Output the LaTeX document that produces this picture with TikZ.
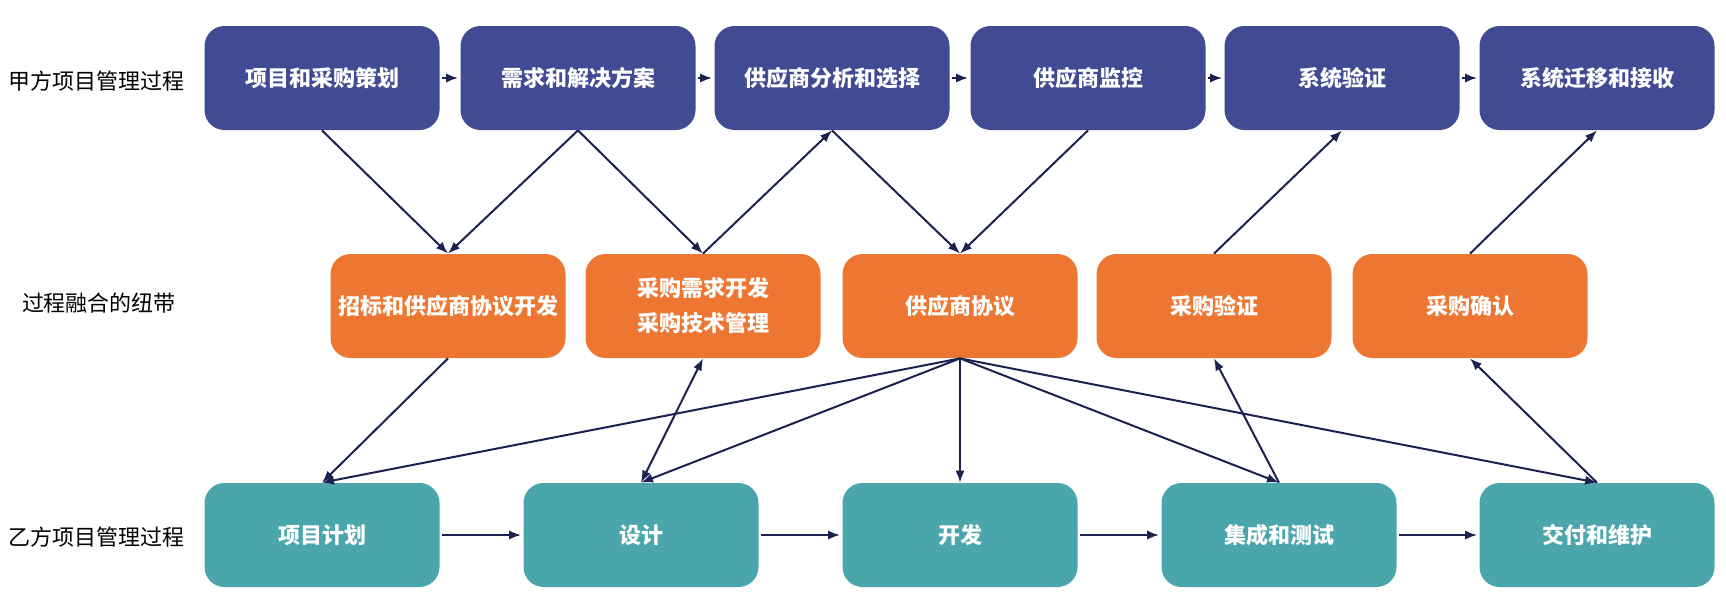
\documentclass[tikz,border=0pt]{standalone}
\usepackage{fontspec}
\setmainfont{Noto Sans CJK SC}
\usetikzlibrary{arrows.meta}
\definecolor{partyA}{HTML}{404B93}
\definecolor{bridge}{HTML}{ED7732}
\definecolor{partyB}{HTML}{4AA6AA}
\definecolor{wire}{HTML}{1B2150}

\begin{document}
\begin{tikzpicture}[x=0.5pt,y=-0.5pt,>={Latex[length=6pt,width=4.6pt]},
  box/.style={rounded corners=10pt,minimum width=117.5pt,minimum height=52pt,inner sep=0pt,
    text=white,align=center,font=\fontsize{11}{17.5}\selectfont\bfseries},
  rowlabel/.style={font=\fontsize{11}{13}\selectfont},
  flow/.style={draw=wire,line width=1pt}]
\useasboundingbox (0,0) rectangle (1726,612);
\node[rowlabel] (la) at (97,81) {甲方项目管理过程};
\node[rowlabel] (lm) at (99,303) {过程融合的纽带};
\node[rowlabel] (lb) at (97,537) {乙方项目管理过程};
\node[box,fill=partyA] (t1) at (322,78) {项目和采购策划};
\node[box,fill=partyA] (t2) at (578,78) {需求和解决方案};
\node[box,fill=partyA] (t3) at (832,78) {供应商分析和选择};
\node[box,fill=partyA] (t4) at (1088,78) {供应商监控};
\node[box,fill=partyA] (t5) at (1342,78) {系统验证};
\node[box,fill=partyA] (t6) at (1597,78) {系统迁移和接收};
\node[box,fill=bridge] (m1) at (448,306) {招标和供应商协议开发};
\node[box,fill=bridge] (m2) at (703,306) {采购需求开发\\采购技术管理};
\node[box,fill=bridge] (m3) at (960,306) {供应商协议};
\node[box,fill=bridge] (m4) at (1214,306) {采购验证};
\node[box,fill=bridge] (m5) at (1470,306) {采购确认};
\node[box,fill=partyB] (b1) at (322,535) {项目计划};
\node[box,fill=partyB] (b2) at (641,535) {设计};
\node[box,fill=partyB] (b3) at (960,535) {开发};
\node[box,fill=partyB] (b4) at (1279,535) {集成和测试};
\node[box,fill=partyB] (b5) at (1597,535) {交付和维护};
\foreach \a/\b in {t1/t2,t2/t3,t3/t4,t4/t5,t5/t6,b1/b2,b2/b3,b3/b4,b4/b5}
  \draw[flow,->,shorten <=1pt,shorten >=1pt] (\a) -- (\b);
\foreach \a/\b in {t1/m1,t2/m1,t2/m2,t3/m3,t4/m3}
  \draw[flow,->] (\a.south) -- (\b.north);
\foreach \a/\b in {m2/t3,m4/t5,m5/t6}
  \draw[flow,->] (\a.north) -- (\b.south);
\foreach \a/\b in {m1/b1,m3/b1,m3/b2,m3/b3,m3/b4,m3/b5}
  \draw[flow,->] (\a.south) -- (\b.north);
\draw[flow,<->] (m2.south) -- (b2.north);
\draw[flow,->] (b4.north) -- (m4.south);
\draw[flow,->] (b5.north) -- (m5.south);
\end{tikzpicture}
\end{document}
